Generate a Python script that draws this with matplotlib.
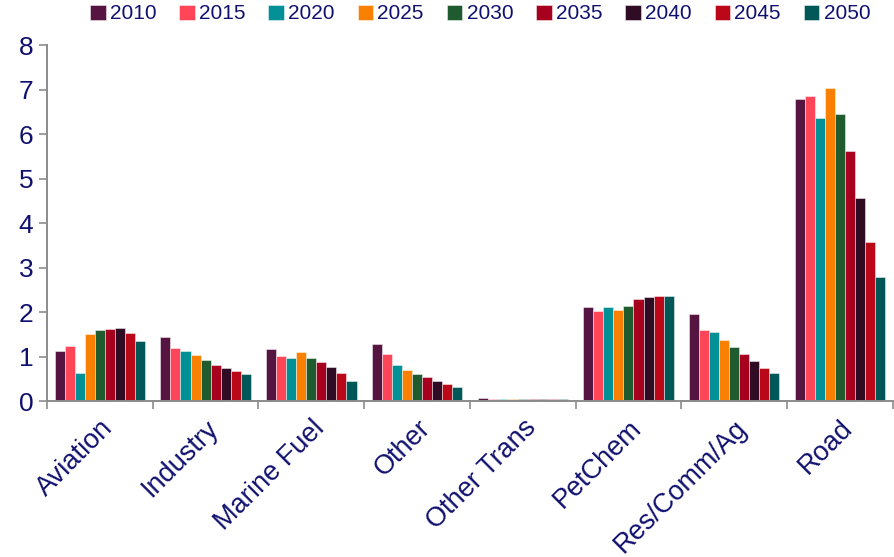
import matplotlib
matplotlib.use("Agg")
import matplotlib.pyplot as plt
import numpy as np

categories = ["Aviation", "Industry", "Marine Fuel", "Other", "Other Trans",
              "PetChem", "Res/Comm/Ag", "Road"]
years = ["2010", "2015", "2020", "2025", "2030", "2035", "2040", "2045", "2050"]
colors = ["#561440", "#FF4558", "#009095", "#F98000", "#1F5B2E",
          "#A6001E", "#300B24", "#BA0818", "#005757"]

# one list per category, values by year 2010..2050
aviation = [1.12, 1.24, 0.64, 1.51, 1.59, 1.63, 1.64, 1.54, 1.36]
industry = [1.43, 1.19, 1.12, 1.03, 0.92, 0.82, 0.74, 0.67, 0.60]
marine_fuel = [1.16, 1.01, 0.97, 1.10, 0.97, 0.88, 0.76, 0.64, 0.44]
other = [1.28, 1.05, 0.82, 0.70, 0.61, 0.53, 0.45, 0.38, 0.31]
other_trans = [0.06, 0.04, 0.04, 0.04, 0.04, 0.04, 0.04, 0.04, 0.04]
petchem = [2.11, 2.02, 2.11, 2.04, 2.14, 2.29, 2.33, 2.36, 2.37]
res_comm_ag = [1.95, 1.60, 1.55, 1.37, 1.21, 1.05, 0.89, 0.75, 0.62]
road = [6.79, 6.86, 6.37, 7.04, 6.46, 5.62, 4.56, 3.57, 2.79]

values = np.array([aviation, industry, marine_fuel, other, other_trans,
                   petchem, res_comm_ag, road])

text_color = "#10106E"
axis_color = "#8C8C8C"
plt.rcParams["font.family"] = ["Liberation Sans", "DejaVu Sans"]

fig = plt.figure(figsize=(8.94, 5.57), dpi=100)
ax = fig.add_axes([0.0526, 0.28, 0.946, 0.639])

x = np.arange(len(categories))
width = 0.095
for i, (year, color) in enumerate(zip(years, colors)):
    offset = (i - (len(years) - 1) / 2) * width
    ax.bar(x + offset, values[:, i], width, color=color, label=year,
           edgecolor=(1, 1, 1, 0.55), linewidth=0.6)

ax.set_xlim(-0.5, len(categories) - 0.5)
ax.set_ylim(0, 8)
ax.set_yticks(range(0, 9))
ax.tick_params(axis="y", labelsize=19, colors=axis_color, labelcolor=text_color,
               length=6, width=1.2, direction="out", pad=4)

ax.set_xticks(np.arange(-0.5, len(categories)), labels=[])
ax.set_xticks(x, labels=categories, minor=True)
ax.tick_params(axis="x", which="major", length=6, width=1.2, colors=axis_color)
ax.tick_params(axis="x", which="minor", length=0, labelsize=19.5,
               labelcolor=text_color, pad=10)
for lbl in ax.get_xticklabels(minor=True):
    lbl.set_rotation(45)
    lbl.set_ha("right")
    lbl.set_va("top")
    lbl.set_rotation_mode("anchor")

for side in ["top", "right"]:
    ax.spines[side].set_visible(False)
for side in ["left", "bottom"]:
    ax.spines[side].set_color(axis_color)
    ax.spines[side].set_linewidth(1.4)

leg = fig.legend(loc="center", bbox_to_anchor=(0.537, 0.975), ncol=len(years),
                 frameon=False, fontsize=15, handlelength=0.75, handleheight=0.75,
                 handletextpad=0.2, columnspacing=1.1,
                 borderaxespad=0)
for t in leg.get_texts():
    t.set_color(text_color)

fig.savefig("out.png", dpi=100)
